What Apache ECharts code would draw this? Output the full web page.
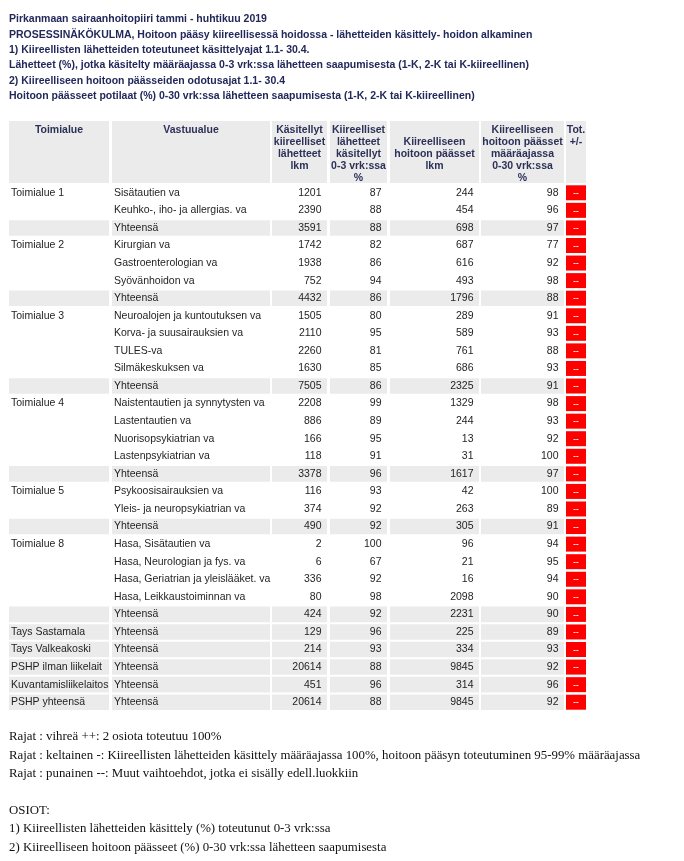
<!DOCTYPE html>
<html><head><meta charset="utf-8">
<script src="https://cdn.jsdelivr.net/npm/echarts/dist/echarts.min.js"></script>
<style>html,body{margin:0;padding:0;background:#fff}#c{width:684px;height:861px}</style>
</head><body><div id="c"></div>
<script>
// ---------- DATA ----------
const titleLines = [
  'Pirkanmaan sairaanhoitopiiri tammi - huhtikuu 2019',
  'PROSESSINÄKÖKULMA, Hoitoon pääsy kiireellisessä hoidossa - lähetteiden käsittely- hoidon alkaminen',
  '1) Kiireellisten lähetteiden toteutuneet käsittelyajat 1.1- 30.4.',
  'Lähetteet (%), jotka käsitelty määräajassa 0-3 vrk:ssa lähetteen saapumisesta (1-K, 2-K tai K-kiireellinen)',
  '2) Kiireelliseen hoitoon päässeiden odotusajat 1.1- 30.4',
  'Hoitoon päässeet potilaat (%) 0-30 vrk:ssa lähetteen saapumisesta (1-K, 2-K tai K-kiireellinen)'
];
const columnHeaders = [
  ['Toimialue'],
  ['Vastuualue'],
  ['Käsitellyt', 'kiireelliset', 'lähetteet', 'lkm'],
  ['Kiireelliset', 'lähetteet', 'käsitellyt', '0-3 vrk:ssa', '%'],
  ['', 'Kiireelliseen', 'hoitoon päässet', 'lkm'],
  ['Kiireelliseen', 'hoitoon päässet', 'määräajassa', '0-30 vrk:ssa', '%'],
  ['Tot.', '+/-']
];
const toimialue = [
  'Toimialue 1', '', '',
  'Toimialue 2', '', '', '',
  'Toimialue 3', '', '', '', '',
  'Toimialue 4', '', '', '', '',
  'Toimialue 5', '', '',
  'Toimialue 8', '', '', '', '',
  'Tays Sastamala', 'Tays Valkeakoski', 'PSHP ilman liikelait', 'Kuvantamisliikelaitos', 'PSHP yhteensä'
];
const vastuualue = [
  'Sisätautien va', 'Keuhko-, iho- ja allergias. va', 'Yhteensä',
  'Kirurgian va', 'Gastroenterologian va', 'Syövänhoidon va', 'Yhteensä',
  'Neuroalojen ja kuntoutuksen va', 'Korva- ja suusairauksien va', 'TULES-va', 'Silmäkeskuksen va', 'Yhteensä',
  'Naistentautien ja synnytysten va', 'Lastentautien va', 'Nuorisopsykiatrian va', 'Lastenpsykiatrian va', 'Yhteensä',
  'Psykoosisairauksien va', 'Yleis- ja neuropsykiatrian va', 'Yhteensä',
  'Hasa, Sisätautien va', 'Hasa, Neurologian ja fys. va', 'Hasa, Geriatrian ja yleislääket. va', 'Hasa, Leikkaustoiminnan va', 'Yhteensä',
  'Yhteensä', 'Yhteensä', 'Yhteensä', 'Yhteensä', 'Yhteensä'
];
const kasitellytLkm = [1201, 2390, 3591, 1742, 1938, 752, 4432, 1505, 2110, 2260, 1630, 7505, 2208, 886, 166, 118, 3378, 116, 374, 490, 2, 6, 336, 80, 424, 129, 214, 20614, 451, 20614];
const kasitellytPct = [87, 88, 88, 82, 86, 94, 86, 80, 95, 81, 85, 86, 99, 89, 95, 91, 96, 93, 92, 92, 100, 67, 92, 98, 92, 96, 93, 88, 96, 88];
const paasseetLkm = [244, 454, 698, 687, 616, 493, 1796, 289, 589, 761, 686, 2325, 1329, 244, 13, 31, 1617, 42, 263, 305, 96, 21, 16, 2098, 2231, 225, 334, 9845, 314, 9845];
const paasseetPct = [98, 96, 97, 77, 92, 98, 88, 91, 93, 88, 93, 91, 98, 93, 92, 100, 97, 100, 89, 91, 94, 95, 94, 90, 90, 89, 93, 92, 96, 92];
const totalMarks = Array.from({length: 30}, () => '--');
const footerLines = [
  'Rajat : vihreä ++: 2 osiota toteutuu 100%',
  'Rajat : keltainen -: Kiireellisten lähetteiden käsittely määräajassa 100%, hoitoon pääsyn toteutuminen 95-99% määräajassa',
  'Rajat : punainen --: Muut vaihtoehdot, jotka ei sisälly edell.luokkiin',
  '',
  'OSIOT:',
  '1) Kiireellisten lähetteiden käsittely (%) toteutunut 0-3 vrk:ssa',
  '2) Kiireelliseen hoitoon päässeet (%) 0-30 vrk:ssa lähetteen saapumisesta'
];

// ---------- LAYOUT / STYLE ----------
const COLS = [[9,109],[112,270],[272,327],[330,387],[390,479],[481,564],[566,586]];
const GRAY = '#ebebeb';
const RED = '#ff0000';
const BODY_FONT = '10.5px "Liberation Sans", Arial, sans-serif';
const HEAD_FONT = 'bold 10.5px "Liberation Sans", Arial, sans-serif';
const TITLE_FONT = 'bold 10.5px "Liberation Sans", Arial, sans-serif';
const FOOT_FONT = '12.85px "Liberation Serif", "Times New Roman", serif';
const NAVY = '#22285a';
const HEAD_NAVY = '#2c3158';
const HEAD_TOP = 121, HEAD_BOTTOM = 183, HEAD_LINE0 = 130, HEAD_LH = 12;
const TITLE_Y0 = 19.5, TITLE_LH = 15.3;
const FOOT_Y0 = 737, FOOT_LH = 18.4;

const markColor = {'--': RED, '-': '#ffd700', '++': '#00b050'};

const rowIdx = toimialue.map((_, i) => i);

function renderRow(params, api) {
  const i = api.value(1);
  const yc = api.coord([0, i])[1];
  const bh = api.size([0, 1])[1];
  const X = v => api.coord([v, i])[0];
  const top = yc - bh / 2 + 1;
  const h = bh - 2;
  const sub = vastuualue[i] === 'Yhteensä';
  const ch = [];
  if (sub) {
    for (let c = 0; c < 6; c++) {
      ch.push({type: 'rect', shape: {x: X(COLS[c][0]), y: top, width: X(COLS[c][1]) - X(COLS[c][0]), height: h}, style: {fill: GRAY}});
    }
  }
  const txt = (t, x, align) => ({type: 'text', style: {text: String(t), x: x, y: yc, align: align, verticalAlign: 'middle', font: BODY_FONT, fill: '#1e1e1e'}});
  ch.push(txt(toimialue[i], X(COLS[0][0]) + 2, 'left'));
  ch.push(txt(vastuualue[i], X(COLS[1][0]) + 2, 'left'));
  const nums = [kasitellytLkm[i], kasitellytPct[i], paasseetLkm[i], paasseetPct[i]];
  nums.forEach((v, k) => ch.push(txt(v, X(COLS[k + 2][1]) - 5.5, 'right')));
  const m = totalMarks[i];
  ch.push({type: 'rect', shape: {x: X(COLS[6][0]), y: yc - 7.5, width: X(COLS[6][1]) - X(COLS[6][0]), height: 15}, style: {fill: markColor[m] || RED}});
  ch.push({type: 'text', style: {text: m, x: (X(COLS[6][0]) + X(COLS[6][1])) / 2, y: yc, align: 'center', verticalAlign: 'middle', font: 'bold 8px "Liberation Sans", Arial, sans-serif', fill: '#ffffff'}});
  return {type: 'group', children: ch};
}

const graphics = [];
titleLines.forEach((t, k) => graphics.push({type: 'text', style: {text: t, x: 9, y: TITLE_Y0 + k * TITLE_LH, align: 'left', verticalAlign: 'middle', font: TITLE_FONT, fill: NAVY}}));
columnHeaders.forEach((lines, c) => {
  graphics.push({type: 'rect', shape: {x: COLS[c][0], y: HEAD_TOP, width: COLS[c][1] - COLS[c][0], height: HEAD_BOTTOM - HEAD_TOP}, style: {fill: GRAY}});
  lines.forEach((t, k) => {
    if (!t) return;
    graphics.push({type: 'text', style: {text: t, x: (COLS[c][0] + COLS[c][1]) / 2, y: HEAD_LINE0 + k * HEAD_LH, align: 'center', verticalAlign: 'middle', font: HEAD_FONT, fill: HEAD_NAVY}});
  });
});
footerLines.forEach((t, k) => {
  if (!t) return;
  graphics.push({type: 'text', style: {text: t, x: 9, y: FOOT_Y0 + k * FOOT_LH, align: 'left', verticalAlign: 'middle', font: FOOT_FONT, fill: '#111'}});
});

const chart = echarts.init(document.getElementById('c'), null, {renderer: 'canvas'});
chart.setOption({
  animation: false,
  backgroundColor: '#fff',
  grid: {left: 0, top: 184, width: 684, height: 527},
  xAxis: {type: 'value', min: 0, max: 684, show: false},
  yAxis: {type: 'category', data: rowIdx, inverse: true, show: false},
  graphic: graphics,
  series: [{
    type: 'custom',
    renderItem: renderRow,
    encode: {x: 0, y: 1},
    data: rowIdx.map(i => [0, i])
  }]
});
</script></body></html>
